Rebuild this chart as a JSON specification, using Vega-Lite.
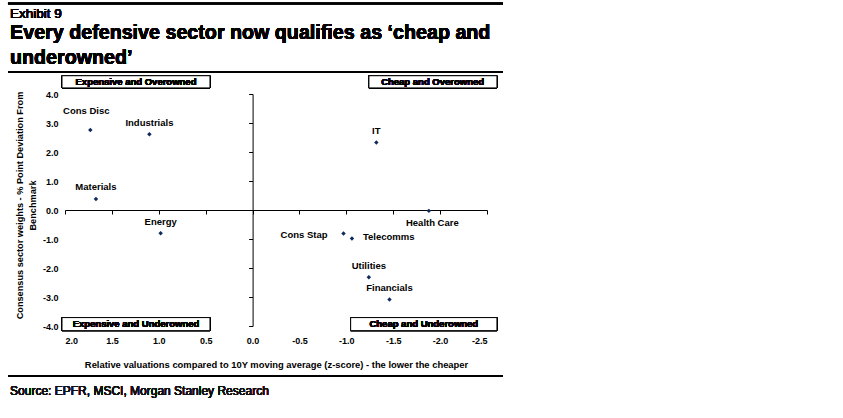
{
  "$schema": "https://vega.github.io/schema/vega-lite/v6.json",
  "width": 422,
  "height": 232,
  "autosize": "none",
  "padding": {"left": 65, "top": 94, "right": 356, "bottom": 92},
  "background": "white",
  "config": {
    "view": {"stroke": null},
    "font": "Liberation Sans",
    "axis": {"labelFont": "Liberation Sans", "titleFont": "Liberation Sans", "labelColor": "#000", "titleColor": "#000", "grid": false}
  },
  "data": {
    "values": [
      {"sector": "Cons Disc", "valuation": 1.73, "weight": 2.76},
      {"sector": "Industrials", "valuation": 1.10, "weight": 2.61},
      {"sector": "Materials", "valuation": 1.67, "weight": 0.38},
      {"sector": "Energy", "valuation": 0.98, "weight": -0.80},
      {"sector": "IT", "valuation": -1.32, "weight": 2.33},
      {"sector": "Health Care", "valuation": -1.88, "weight": -0.03},
      {"sector": "Cons Stap", "valuation": -0.97, "weight": -0.81},
      {"sector": "Telecomms", "valuation": -1.06, "weight": -0.98},
      {"sector": "Utilities", "valuation": -1.24, "weight": -2.32},
      {"sector": "Financials", "valuation": -1.46, "weight": -3.09}
    ]
  },
  "resolve": {"axis": {"x": "independent", "y": "independent"}},
  "layer": [
    {
      "mark": {"type": "point", "shape": "diamond", "filled": true, "size": 20, "color": "#0d2a5c", "opacity": 1},
      "encoding": {
        "x": {
          "field": "valuation", "type": "quantitative",
          "scale": {"domain": [-2.5, 2], "reverse": true, "nice": false, "zero": false},
          "axis": {
            "orient": "bottom", "domain": false, "ticks": false, "tickSize": 0,
            "values": [2, 1.5, 1, 0.5, 0, -0.5, -1, -1.5, -2, -2.5],
            "labelExpr": "replace(format(datum.value, '.1f'), '−', '-')",
            "labelFontSize": 9, "labelFontWeight": "bold", "labelPadding": 10,
            "title": "Relative valuations compared to 10Y moving average (z-score) - the lower the cheaper",
            "titleFontSize": 9.4, "titleFontWeight": "bold", "titleY": 38, "titleBaseline": "middle"
          }
        },
        "y": {
          "field": "weight", "type": "quantitative",
          "scale": {"domain": [-4, 4], "nice": false, "zero": false},
          "axis": {
            "orient": "left", "domain": false, "ticks": false, "tickSize": 0,
            "values": [-4, -3, -2, -1, 0, 1, 2, 3, 4],
            "labelExpr": "replace(format(datum.value, '.1f'), '−', '-')",
            "labelFontSize": 9, "labelFontWeight": "bold", "labelPadding": 7,
            "title": ["Consensus sector weights - % Point Deviation From", "Benchmark"],
            "titleFontSize": 9.2, "titleFontWeight": "bold", "titleAngle": -90,
            "titleX": -45.5, "titleY": 111, "titleAlign": "center", "titleBaseline": "middle", "titleLineHeight": 12.5
          }
        }
      }
    },
    {
      "transform": [{"filter": {"field": "sector", "oneOf": ["Industrials", "Materials", "IT", "Utilities", "Financials", "Energy"]}}],
      "mark": {"type": "text", "fontSize": 9.5, "fontWeight": "bold", "color": "#000", "dy": -11.5, "align": "center", "baseline": "middle"},
      "encoding": {
        "x": {
          "field": "valuation", "type": "quantitative",
          "axis": {
            "orient": "bottom", "offset": -116, "domain": true, "domainColor": "#000", "domainWidth": 1,
            "ticks": true, "tickColor": "#000", "tickSize": 4, "tickWidth": 1, "labels": false, "title": null,
            "values": [2, 1.5, 1, 0.5, 0, -0.5, -1, -1.5, -2, -2.5]
          }
        },
        "y": {
          "field": "weight", "type": "quantitative",
          "axis": {
            "orient": "left", "offset": -187.6, "domain": true, "domainColor": "#000", "domainWidth": 1,
            "ticks": true, "tickColor": "#000", "tickSize": 4, "tickWidth": 1, "labels": false, "title": null,
            "values": [-4, -3, -2, -1, 0, 1, 2, 3, 4]
          }
        },
        "text": {"field": "sector"}
      }
    },
    {
      "transform": [{"filter": {"field": "sector", "equal": "Cons Disc"}}],
      "mark": {"type": "text", "fontSize": 9.5, "fontWeight": "bold", "color": "#000", "dx": -4, "dy": -19, "align": "center", "baseline": "middle"},
      "encoding": {
        "x": {"field": "valuation", "type": "quantitative", "axis": null},
        "y": {"field": "weight", "type": "quantitative", "axis": null},
        "text": {"field": "sector"}
      }
    },
    {
      "transform": [{"filter": {"field": "sector", "equal": "Health Care"}}],
      "mark": {"type": "text", "fontSize": 9.5, "fontWeight": "bold", "color": "#000", "dx": 3.5, "dy": 12, "align": "center", "baseline": "middle"},
      "encoding": {
        "x": {"field": "valuation", "type": "quantitative", "axis": null},
        "y": {"field": "weight", "type": "quantitative", "axis": null},
        "text": {"field": "sector"}
      }
    },
    {
      "transform": [{"filter": {"field": "sector", "equal": "Cons Stap"}}],
      "mark": {"type": "text", "fontSize": 9.5, "fontWeight": "bold", "color": "#000", "dx": -16, "dy": 1.5, "align": "right", "baseline": "middle"},
      "encoding": {
        "x": {"field": "valuation", "type": "quantitative", "axis": null},
        "y": {"field": "weight", "type": "quantitative", "axis": null},
        "text": {"field": "sector"}
      }
    },
    {
      "transform": [{"filter": {"field": "sector", "equal": "Telecomms"}}],
      "mark": {"type": "text", "fontSize": 9.5, "fontWeight": "bold", "color": "#000", "dx": 11, "dy": -1, "align": "left", "baseline": "middle"},
      "encoding": {
        "x": {"field": "valuation", "type": "quantitative", "axis": null},
        "y": {"field": "weight", "type": "quantitative", "axis": null},
        "text": {"field": "sector"}
      }
    },
    {
      "mark": {"type": "rect", "fill": "white", "stroke": "#000", "strokeWidth": 1},
      "encoding": {"x": {"datum": 2.032, "type": "quantitative", "axis": null}, "x2": {"datum": 0.454}, "y": {"datum": 4.63, "type": "quantitative", "axis": null}, "y2": {"datum": 4.21}}
    },
    {
      "mark": {"type": "rect", "fill": "white", "stroke": "#000", "strokeWidth": 1},
      "encoding": {"x": {"datum": -1.241, "type": "quantitative", "axis": null}, "x2": {"datum": -2.606}, "y": {"datum": 4.63, "type": "quantitative", "axis": null}, "y2": {"datum": 4.21}}
    },
    {
      "mark": {"type": "rect", "fill": "white", "stroke": "#000", "strokeWidth": 1},
      "encoding": {"x": {"datum": 2.032, "type": "quantitative", "axis": null}, "x2": {"datum": 0.454}, "y": {"datum": -3.71, "type": "quantitative", "axis": null}, "y2": {"datum": -4.16}}
    },
    {
      "mark": {"type": "rect", "fill": "white", "stroke": "#000", "strokeWidth": 1},
      "encoding": {"x": {"datum": -1.046, "type": "quantitative", "axis": null}, "x2": {"datum": -2.606}, "y": {"datum": -3.71, "type": "quantitative", "axis": null}, "y2": {"datum": -4.16}}
    },
    {
      "mark": {"type": "text", "fontSize": 9.5, "fontWeight": "bold", "color": "#000", "align": "center", "baseline": "middle", "text": "Expensive and Overowned"},
      "encoding": {"x": {"datum": 1.243, "type": "quantitative", "axis": null}, "y": {"datum": 4.42, "type": "quantitative", "axis": null}}
    },
    {
      "mark": {"type": "text", "fontSize": 9.5, "fontWeight": "bold", "color": "#000", "align": "center", "baseline": "middle", "text": "Cheap and Overowned"},
      "encoding": {"x": {"datum": -1.92, "type": "quantitative", "axis": null}, "y": {"datum": 4.42, "type": "quantitative", "axis": null}}
    },
    {
      "mark": {"type": "text", "fontSize": 9.5, "fontWeight": "bold", "color": "#000", "align": "center", "baseline": "middle", "text": "Expensive and Underowned"},
      "encoding": {"x": {"datum": 1.243, "type": "quantitative", "axis": null}, "y": {"datum": -3.935, "type": "quantitative", "axis": null}}
    },
    {
      "mark": {"type": "text", "fontSize": 9.5, "fontWeight": "bold", "color": "#000", "align": "center", "baseline": "middle", "text": "Cheap and Underowned"},
      "encoding": {"x": {"datum": -1.826, "type": "quantitative", "axis": null}, "y": {"datum": -3.935, "type": "quantitative", "axis": null}}
    },
    {
      "mark": {"type": "rule", "color": "#000", "strokeWidth": 1.3},
      "encoding": {"x": {"datum": 2.608, "type": "quantitative", "axis": null}, "x2": {"datum": -2.67}, "y": {"datum": 7.12, "type": "quantitative", "axis": null}}
    },
    {
      "mark": {"type": "rule", "color": "#000", "strokeWidth": 1.3},
      "encoding": {"x": {"datum": 2.608, "type": "quantitative", "axis": null}, "x2": {"datum": -2.67}, "y": {"datum": 4.765, "type": "quantitative", "axis": null}}
    },
    {
      "mark": {"type": "rule", "color": "#000", "strokeWidth": 1.3},
      "encoding": {"x": {"datum": 2.608, "type": "quantitative", "axis": null}, "x2": {"datum": -2.67}, "y": {"datum": -5.72, "type": "quantitative", "axis": null}}
    },
    {
      "mark": {"type": "text", "fontSize": 13.5, "fontWeight": "normal", "color": "#000", "align": "left", "baseline": "alphabetic", "text": "Exhibit 9"},
      "encoding": {"x": {"datum": 2.586, "type": "quantitative", "axis": null}, "y": {"datum": 6.62, "type": "quantitative", "axis": null}}
    },
    {
      "mark": {"type": "text", "fontSize": 19.7, "fontWeight": "bold", "color": "#000", "align": "left", "baseline": "alphabetic", "lineHeight": 25.7, "text": ["Every defensive sector now qualifies as ‘cheap and", "underowned’"]},
      "encoding": {"x": {"datum": 2.586, "type": "quantitative", "axis": null}, "y": {"datum": 5.91, "type": "quantitative", "axis": null}}
    },
    {
      "mark": {"type": "text", "fontSize": 12, "fontWeight": "normal", "color": "#111", "align": "left", "baseline": "middle", "text": "Source: EPFR, MSCI, Morgan Stanley Research"},
      "encoding": {"x": {"datum": 2.586, "type": "quantitative", "axis": null}, "y": {"datum": -6.23, "type": "quantitative", "axis": null}}
    }
  ]
}
